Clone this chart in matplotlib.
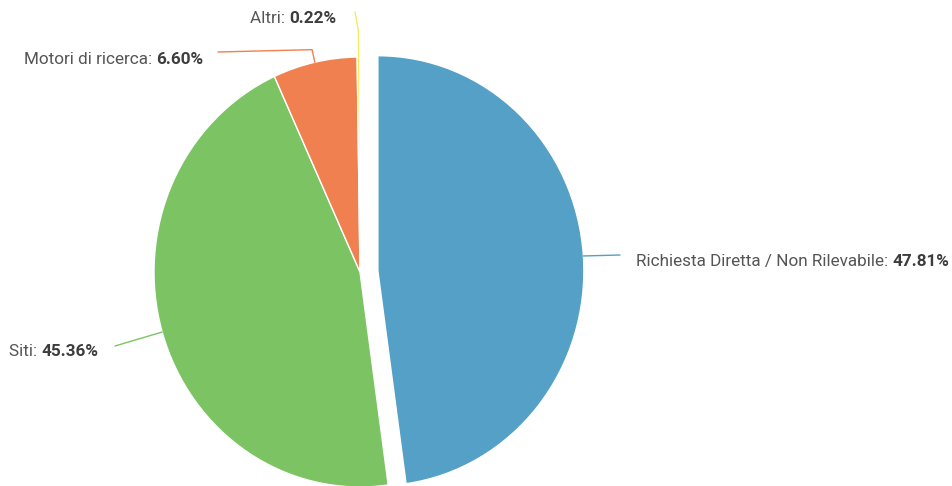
import matplotlib
matplotlib.use("Agg")
import matplotlib.pyplot as plt
import numpy as np

categories = ["Richiesta Diretta / Non Rilevabile", "Siti", "Motori di ricerca", "Altri"]
values = [47.81, 45.36, 6.60, 0.22]
value_labels = ["47.81%", "45.36%", "6.60%", "0.22%"]
colors = ["#54A0C6", "#7CC463", "#F08050", "#F2EC5E"]
explode = [0.087, 0, 0, 0]

W, H = 952, 486
CX, CY = 360, 272      # pie centre in pixels (from top-left)
RX, RY = 206, 215      # pie radii in pixels

plt.rcParams['font.family'] = ['Roboto', 'DejaVu Sans']

fig = plt.figure(figsize=(W / 100, H / 100), dpi=100)
ax = fig.add_axes([0, 0, 1, 1])
ax.pie(values, colors=colors, startangle=90, counterclock=False,
       explode=explode, radius=1,
       wedgeprops=dict(edgecolor='white', linewidth=1))
ax.set_aspect('auto')
ax.set_xlim(-CX / RX, (W - CX) / RX)
ax.set_ylim(-(H - CY) / RY, CY / RY)
ax.axis('off')


def px(x, y):
    return ((x - CX) / RX, (CY - y) / RY)


total = sum(values)
cum = np.cumsum([0] + values[:-1])
mid = np.deg2rad(90 - 360 * (cum + np.array(values) / 2) / total)

# label layout: (side, text anchor px, knee radius, connector end px)
layout = [
    ("left", (636, 266), None, (620, 255)),
    ("right", (98, 356), None, (115, 346)),
    ("right", (203, 64), 1.06, (218, 52)),
    ("right", (336, 23), 1.12, (355, 12)),
]

FS = 12.3
NAME_C = "#555555"
VAL_C = "#3d3d3d"

for i, (side, anchor, knee, end) in enumerate(layout):
    a = mid[i]
    ox, oy = explode[i] * np.cos(a), explode[i] * np.sin(a)
    pts = [(ox + np.cos(a), oy + np.sin(a))]
    if knee is not None:
        pts.append((ox + knee * np.cos(a), oy + knee * np.sin(a)))
    pts.append(px(*end))
    xs, ys = zip(*pts)
    ax.plot(xs, ys, color=colors[i], lw=1.0, solid_capstyle='round',
            solid_joinstyle='round')

    ax_pos = px(*anchor)
    if side == "left":
        t1 = ax.text(*ax_pos, categories[i] + ": ", ha='left', va='baseline',
                     fontsize=FS, color=NAME_C)
        ax.annotate(value_labels[i], xy=(1, 0), xycoords=t1, ha='left',
                    va='bottom', fontsize=FS, color=VAL_C, fontweight='bold')
    else:
        t1 = ax.text(*ax_pos, value_labels[i], ha='right', va='baseline',
                     fontsize=FS, color=VAL_C, fontweight='bold')
        ax.annotate(categories[i] + ": ", xy=(0, 0), xycoords=t1, ha='right',
                    va='bottom', fontsize=FS, color=NAME_C)

fig.savefig("out.png", dpi=100)
